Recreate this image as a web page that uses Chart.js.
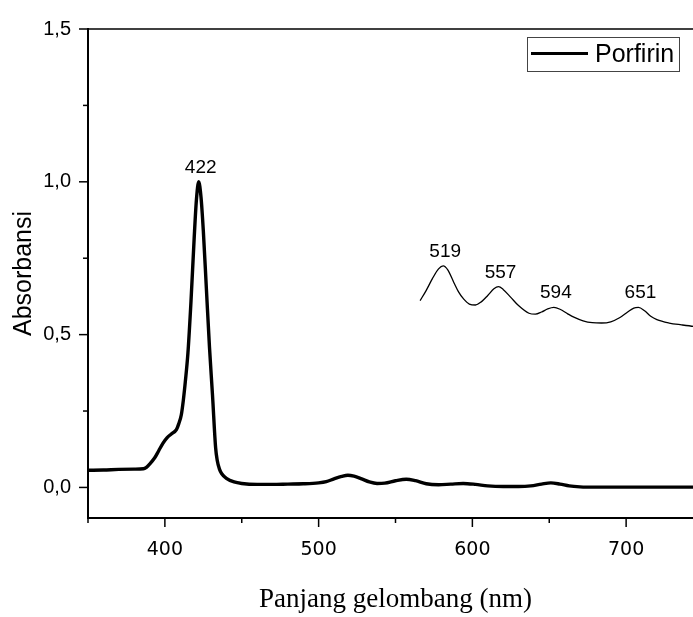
<!DOCTYPE html>
<html>
<head>
<meta charset="utf-8">
<script src="https://cdn.jsdelivr.net/npm/chart.js@4.4.1/dist/chart.umd.min.js"></script>
<style>
html, body { margin: 0; padding: 0; background: #fff; overflow: hidden; }
#wrap { width: 693px; height: 617px; overflow: hidden; }
canvas { display: block; }
</style>
</head>
<body>
<div id="wrap"><canvas id="c" width="705" height="617"></canvas></div>
<script>
// main spectrum (nm, absorbance)
const wavelength = [350, 360, 370, 380, 386, 388, 390, 393.4, 396, 398.8, 401.5, 404.2, 407.5, 409, 410.7, 412, 413.3, 415, 417, 419, 420.5, 422,
  423.5, 425, 427, 429, 431, 433, 434, 435.5, 437, 440, 445, 450, 460, 470, 480, 490, 500, 505, 510, 515, 519, 523, 528, 533, 538, 543,
  550, 557, 563, 570, 578, 586, 594, 602, 610, 620, 630, 638, 645, 651, 657, 663, 670, 680, 700, 720, 750];
const absorbance = [0.056, 0.057, 0.059, 0.060, 0.061, 0.066, 0.076, 0.097, 0.120, 0.145, 0.163, 0.175, 0.189, 0.208, 0.238, 0.285, 0.346, 0.440, 0.610, 0.810, 0.940, 1.000,
  0.950, 0.840, 0.650, 0.460, 0.300, 0.130, 0.090, 0.060, 0.045, 0.030, 0.018, 0.013, 0.010, 0.010, 0.011, 0.012, 0.015, 0.019, 0.028, 0.036, 0.040, 0.037, 0.028, 0.018, 0.013, 0.014,
  0.022, 0.027, 0.022, 0.012, 0.009, 0.011, 0.013, 0.010, 0.005, 0.003, 0.003, 0.005, 0.011, 0.015, 0.011, 0.005, 0.002, 0.001, 0.001, 0.001, 0.001];

// magnified Q-band curve, as drawn on the plot
const insetWavelength = [566, 570, 574, 578, 581, 584, 588, 591, 594.4, 598, 602, 606, 610, 614, 617, 620, 625, 630, 636.8, 641, 645, 649, 653,
  657, 662, 666, 672, 678, 684, 690, 696, 701, 705, 708, 712, 716, 720, 728, 736, 744, 750];
const insetAbsorbance = [0.611, 0.645, 0.683, 0.715, 0.725, 0.712, 0.670, 0.640, 0.616, 0.600, 0.597, 0.608, 0.628, 0.650, 0.657, 0.648, 0.622, 0.595, 0.570, 0.567, 0.574, 0.584, 0.589,
  0.583, 0.568, 0.557, 0.545, 0.539, 0.538, 0.542, 0.556, 0.574, 0.587, 0.589, 0.578, 0.560, 0.549, 0.538, 0.532, 0.527, 0.525];

const peakLabels = ['422', '519', '557', '594', '651'];
const peakX = [422, 581, 617, 653, 708];
const peakY = [1.0, 0.725, 0.657, 0.589, 0.589];

const xTicks = [400, 500, 600, 700];
const xMinor = [350, 450, 550, 650, 750];
const yTicks = [0, 0.5, 1.0, 1.5];
const yMinor = [0.25, 0.75, 1.25];

const seriesName = 'Porfirin';

const toPoints = (xs, ys) => xs.map((v, i) => ({ x: v, y: ys[i] }));

const decor = {
  id: 'decor',
  afterDraw(chart) {
    const { ctx, chartArea: a, scales: { x, y } } = chart;
    ctx.save();
    ctx.strokeStyle = '#000';
    ctx.lineWidth = 1.6;
    ctx.beginPath();
    ctx.moveTo(a.left, a.top);
    ctx.lineTo(a.right, a.top);
    ctx.stroke();

    ctx.lineWidth = 1.5;
    const seg = (x1, y1, x2, y2) => { ctx.beginPath(); ctx.moveTo(x1, y1); ctx.lineTo(x2, y2); ctx.stroke(); };
    xTicks.forEach(v => { const p = x.getPixelForValue(v); seg(p, a.bottom, p, a.bottom + 9); });
    xMinor.forEach(v => { const p = x.getPixelForValue(v); seg(p, a.bottom, p, a.bottom + 5); });
    yTicks.forEach(v => { const p = y.getPixelForValue(v); seg(a.left, p, a.left - 9, p); });
    yMinor.forEach(v => { const p = y.getPixelForValue(v); seg(a.left, p, a.left - 5, p); });

    // peak labels
    ctx.fillStyle = '#000';
    ctx.font = '19px "Liberation Sans", Arial, sans-serif';
    ctx.textAlign = 'center';
    ctx.textBaseline = 'alphabetic';
    peakLabels.forEach((t, i) => {
      ctx.fillText(t, x.getPixelForValue(peakX[i]) + 2, y.getPixelForValue(peakY[i]) - 9);
    });

    // legend
    ctx.lineWidth = 1;
    ctx.strokeStyle = '#444';
    ctx.strokeRect(527.5, 37.5, 152, 34);
    ctx.strokeStyle = '#000';
    ctx.lineWidth = 3;
    seg(531, 53.5, 588, 53.5);
    ctx.font = '25px "Liberation Sans", Arial, sans-serif';
    ctx.textAlign = 'left';
    ctx.textBaseline = 'middle';
    ctx.fillText(seriesName, 595, 55);
    ctx.restore();
  }
};

new Chart(document.getElementById('c'), {
  type: 'line',
  data: {
    datasets: [
      {
        label: seriesName,
        data: toPoints(wavelength, absorbance),
        borderColor: '#000',
        borderWidth: 3.4,
        pointRadius: 0,
        cubicInterpolationMode: 'monotone',
        fill: false
      },
      {
        label: 'inset',
        data: toPoints(insetWavelength, insetAbsorbance),
        borderColor: '#000',
        borderWidth: 1.3,
        pointRadius: 0,
        cubicInterpolationMode: 'monotone',
        fill: false
      }
    ]
  },
  options: {
    responsive: false,
    animation: false,
    events: [],
    layout: { padding: { top: 24, right: 2, left: 0, bottom: 0 } },
    plugins: { legend: { display: false }, tooltip: { enabled: false } },
    scales: {
      x: {
        type: 'linear',
        min: 350,
        max: 750,
        afterFit: s => { s.height = 99; },
        afterBuildTicks: s => { s.ticks = xTicks.map(v => ({ value: v })); },
        grid: { display: false, drawTicks: false },
        border: { display: true, color: '#000', width: 2 },
        ticks: {
          color: '#000',
          padding: 21,
          maxRotation: 0,
          font: { family: '"DejaVu Sans", sans-serif', size: 19 },
          callback: v => String(v)
        },
        title: {
          display: true,
          text: 'Panjang gelombang (nm)',
          color: '#000',
          font: { family: '"Liberation Serif", "Times New Roman", serif', size: 27 },
          padding: { top: 0, bottom: 1 }
        }
      },
      y: {
        min: -0.1,
        max: 1.5,
        afterFit: s => { s.width = 88; },
        afterBuildTicks: s => { s.ticks = yTicks.map(v => ({ value: v })); },
        grid: { display: false, drawTicks: false },
        border: { display: true, color: '#000', width: 2 },
        ticks: {
          color: '#000',
          padding: 17,
          font: { family: '"Liberation Sans", Arial, sans-serif', size: 20 },
          callback: v => v.toFixed(1).replace('.', ',')
        },
        title: {
          display: true,
          text: 'Absorbansi',
          color: '#000',
          font: { family: '"Liberation Sans", Arial, sans-serif', size: 25 },
          padding: { top: 9, bottom: 0 }
        }
      }
    }
  },
  plugins: [decor]
});
</script>
</body>
</html>
